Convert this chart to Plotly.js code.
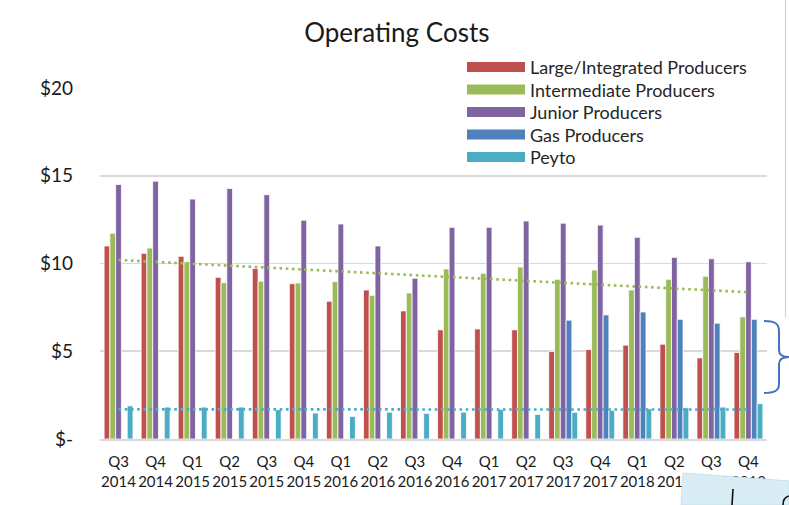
<!DOCTYPE html>
<html>
<head>
<meta charset="utf-8">
<script src="https://cdn.plot.ly/plotly-3.0.1.min.js"></script>
<style>html,body{margin:0;padding:0;background:#fff;}#chart{width:789px;height:505px;}</style>
</head>
<body>
<div id="chart"></div>
<script>
// ---- data ----
var quarters = ["Q3","Q4","Q1","Q2","Q3","Q4","Q1","Q2","Q3","Q4","Q1","Q2","Q3","Q4","Q1","Q2","Q3","Q4"];
var years = ["2014","2014","2015","2015","2015","2015","2016","2016","2016","2016","2017","2017","2017","2017","2018","2018","2018","2018"];
var seriesNames = ["Large/Integrated Producers","Intermediate Producers","Junior Producers","Gas Producers","Peyto"];
var largeIntegrated = [11.0,10.58,10.41,9.21,9.71,8.85,7.85,8.49,7.30,6.22,6.27,6.22,4.98,5.10,5.35,5.40,4.62,4.93];
var intermediate = [11.72,10.88,10.10,8.91,8.99,8.89,8.97,8.19,8.32,9.69,9.44,9.80,9.10,9.63,8.49,9.10,9.27,6.96];
var junior = [14.50,14.69,13.67,14.28,13.92,12.47,12.25,11.00,9.16,12.06,12.06,12.42,12.30,12.19,11.49,10.35,10.27,10.10];
var gas = [null,null,null,null,null,null,null,null,null,null,null,null,6.77,7.07,7.24,6.82,6.60,6.82];
var peyto = [1.89,1.82,1.82,1.82,1.67,1.48,1.29,1.53,1.46,1.53,1.69,1.40,1.52,1.63,1.72,1.78,1.82,2.01];
var intermediateTrendEnds = [10.20, 8.36];
var peytoTrendEnds = [1.69, 1.68];
var yTickVals = [0,5,10,15,20];
var yTickText = ["$-","$5","$10","$15","$20"];

var colors = ["#c0504d","#9bbb59","#8064a2","#4f81bd","#4bacc6"];
var cats = quarters.map(function(q,i){ return q + " " + years[i]; });
var catText = quarters.map(function(q,i){ return q + "<br>" + years[i]; });
var values = [largeIntegrated, intermediate, junior, gas, peyto];

var traces = values.map(function(v,i){
  return {type:"bar", name:seriesNames[i], x:cats, y:v,
    marker:{color:colors[i], line:{color:"#ffffff", width:0.8}},
    showlegend:false, hoverinfo:"x+y+name"};
});
var ends = [cats[0], cats[cats.length-1]];
traces.push({type:"scatter", mode:"lines", x:ends, y:intermediateTrendEnds,
  line:{color:"#9bbb59", width:2.6, dash:"2.6px,3.6px"}, showlegend:false, hoverinfo:"skip"});
traces.push({type:"scatter", mode:"lines", x:ends, y:peytoTrendEnds,
  line:{color:"#4bacc6", width:2.6, dash:"2.6px,3.6px"}, showlegend:false, hoverinfo:"skip"});

// geometry helpers (pixel -> paper)
var L=100, R=767, T=88, B=439;
function px(x){ return (x-L)/(R-L); }
function py(y){ return (B-y)/(B-T); }

var shapes = [];
var annotations = [];
// legend background
shapes.push({type:"rect", xref:"paper", yref:"paper", x0:px(452), x1:px(770), y0:py(172), y1:py(54),
  fillcolor:"#ffffff", line:{width:0}, layer:"above"});
var rowY = [67, 89.5, 112, 134.5, 157];
seriesNames.forEach(function(n,i){
  shapes.push({type:"rect", xref:"paper", yref:"paper", x0:px(467), x1:px(525), y0:py(rowY[i]+5), y1:py(rowY[i]-5),
    fillcolor:colors[i], line:{width:0}, layer:"above"});
  annotations.push({xref:"paper", yref:"paper", x:px(528), y:py(rowY[i]), xanchor:"left", yanchor:"middle",
    text:n, showarrow:false, font:{family:"Lato, sans-serif", size:18, color:"#262626"}});
});
// bracket on the right
function P(x,y){ return px(x).toFixed(4)+","+py(y).toFixed(4); }
var bracket = "M"+P(764,321)+" C"+P(774,321)+" "+P(779,323)+" "+P(779,331)+
  " L"+P(779,350)+" C"+P(779,355)+" "+P(783,357)+" "+P(789,357)+
  " C"+P(783,357)+" "+P(779,359)+" "+P(779,364)+
  " L"+P(779,384)+" C"+P(779,391)+" "+P(774,393)+" "+P(764,393);
shapes.push({type:"path", xref:"paper", yref:"paper", path:bracket, line:{color:"#4472c4", width:2}, layer:"above"});
// right frame line
shapes.push({type:"line", xref:"paper", yref:"paper", x0:px(785.5), x1:px(785.5), y0:py(0), y1:py(318),
  line:{color:"#d4d4d4", width:1.2}, layer:"above"});
// sticky note at bottom right
var note = "M"+P(683,473)+" L"+P(789,481)+" L"+P(789,505)+" L"+P(681,505)+" Z";
shapes.push({type:"path", xref:"paper", yref:"paper", path:note, fillcolor:"#daedf4", line:{color:"#c9e2ec", width:1}, layer:"above"});
shapes.push({type:"path", xref:"paper", yref:"paper", path:"M"+P(733,489)+" L"+P(732,505),
  line:{color:"#111111", width:1.6}, layer:"above"});
shapes.push({type:"path", xref:"paper", yref:"paper", path:"M"+P(789,496)+" C"+P(785,497)+" "+P(783,500)+" "+P(783,505),
  line:{color:"#111111", width:1.6}, layer:"above"});

var layout = {
  width:789, height:505,
  margin:{l:L, r:789-R, t:T, b:505-B, pad:0},
  paper_bgcolor:"#ffffff", plot_bgcolor:"#ffffff",
  font:{family:"Lato, sans-serif", color:"#262626"},
  title:{text:"Operating Costs", font:{family:"Lato, sans-serif", size:26, color:"#1a1a1a"},
    xref:"container", yref:"container", x:0.503, xanchor:"center", y:1-33/505, yanchor:"middle"},
  barmode:"group", bargap:0.22, bargroupgap:0,
  showlegend:false,
  xaxis:{type:"category", tickvals:cats, ticktext:catText, ticks:"", showgrid:false, tickangle:0,
    showline:true, linecolor:"#d9d9d9", linewidth:2, tickfont:{size:15, color:"#1a1a1a"},
    ticklabelstandoff:8, fixedrange:true},
  yaxis:{range:[0,20], tickvals:yTickVals, ticktext:yTickText, ticks:"", showline:false,
    gridcolor:"#d9d9d9", gridwidth:1.6, zeroline:false, tickfont:{size:19, color:"#1a1a1a"},
    ticklabelstandoff:26, fixedrange:true},
  shapes:shapes, annotations:annotations
};
Plotly.newPlot("chart", traces, layout, {displayModeBar:false, staticPlot:true});
</script>
</body>
</html>
